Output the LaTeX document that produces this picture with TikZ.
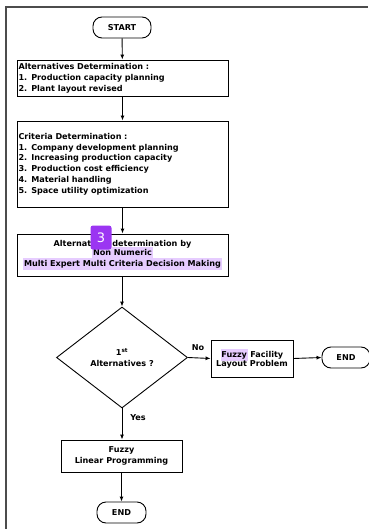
\documentclass[tikz,border=0pt]{standalone}
\usepackage{fontspec}
\setmainfont{DejaVu Sans}
\usetikzlibrary{shapes.geometric,arrows.meta}
\definecolor{hl}{HTML}{E6CCFF}
\definecolor{badge}{HTML}{9B35F2}
\setlength{\fboxsep}{0.6pt}
\newcommand{\hlt}[1]{\colorbox{hl}{\strut #1}}
\begin{document}
\begin{tikzpicture}[x=1pt,y=-1pt,
  font=\fontsize{8.1}{10.8}\selectfont\bfseries,
  box/.style={draw, line width=0.9pt, inner sep=1pt},
  term/.style={draw, line width=0.9pt, rounded corners=9pt, minimum width=49pt, minimum height=21pt, inner sep=0pt},
  arr/.style={-{Latex[length=5pt,width=4pt]}, line width=0.9pt},
  lbl/.style={inner sep=0pt}]
\useasboundingbox (0,0) rectangle (368,529);
% frame
\draw[line width=1.6pt, black!70] (6,529) -- (6,7) -- (368,7);

\node[term, minimum width=58pt] (start) at (122,27.5) {START};

\node[box, minimum width=211pt, minimum height=36pt, text width=208pt, align=left] (alt) at (122.5,78)
  {Alternatives Determination :\\1. Production capacity planning\\2. Plant layout revised};

\node[box, minimum width=211pt, minimum height=86pt, text width=208pt, align=left] (crit) at (122.5,164)
  {Criteria Determination :\\1. Company development planning\\2. Increasing production capacity\\3. Production cost efficiency\\4. Material handling\\5. Space utility optimization};

\node[box, minimum width=211pt, minimum height=42pt, align=center] (mem) at (122.5,255)
  {Alternatives determination by\\[-2pt]\hlt{Non Numeric}\\[-2pt]\hlt{Multi Expert Multi Criteria Decision Making}};

\node[draw, line width=0.9pt, diamond, minimum width=131pt, minimum height=101pt, inner sep=0pt, align=center] (dec) at (122,357.5)
  {1\textsuperscript{st}\\Alternatives ?};

\node[box, minimum width=82pt, minimum height=37pt, align=center] (ffl) at (252,358.5)
  {\hlt{Fuzzy} Facility\\[-2pt]Layout Problem};

\node[term, minimum width=48pt] (end2) at (346,357.5) {END};

\node[box, minimum width=121pt, minimum height=32pt, align=center] (flp) at (121.5,456)
  {Fuzzy\\Linear Programming};

\node[term] (end1) at (121.5,512.5) {END};

\draw[arr] (start) -- (alt);
\draw[arr] (alt) -- (crit);
\draw[arr] (crit) -- (mem);
\draw[arr] (mem.south -| dec.north) -- (dec.north);
\draw[arr] (dec.east) -- (ffl.west);
\draw[arr] (ffl.east) -- (end2.west);
\draw[arr] (dec.south) -- (dec.south |- flp.north);
\draw[arr] (flp.south -| end1.north) -- (end1.north);

\node[lbl] (no) at (198,347.5) {No};
\node[lbl] (yes) at (138,418) {Yes};

% annotation badge
\node[fill=badge, rounded corners=2.5pt, minimum width=21pt, minimum height=24pt, inner sep=0pt, text=white, font=\fontsize{13}{13}\selectfont] (badge3) at (101,237.5) {3};
\end{tikzpicture}
\end{document}
